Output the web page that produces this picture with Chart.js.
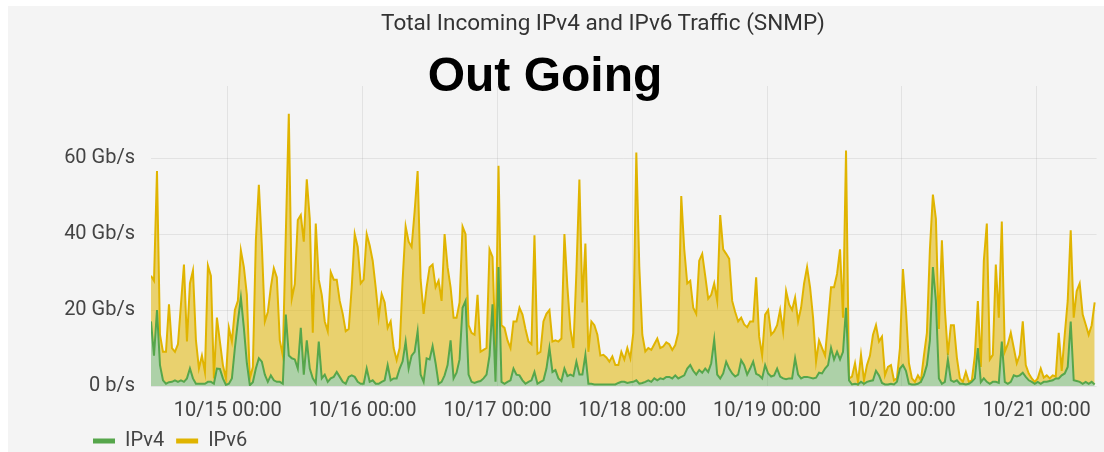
<!DOCTYPE html>
<html>
<head>
<meta charset="utf-8">
<script src="https://cdn.jsdelivr.net/npm/chart.js@4.4.0/dist/chart.umd.min.js"></script>
<style>
  html, body { margin: 0; padding: 0; background: #fff; }
  body { width: 1104px; height: 452px; overflow: hidden; position: relative; }
  #panel { position: absolute; left: 8px; top: 6px; width: 1096px; height: 446px; background: #f4f4f4; }
  #title { position: absolute; left: 595px; top: 5px; transform: translateX(-50%); white-space: nowrap;
           font: 22.5px/1 Roboto, sans-serif; color: #333; }
  #note { position: absolute; left: 537px; top: 45px; transform: translateX(-50%); white-space: nowrap;
          font: bold 48px/1 "Liberation Sans", Arial, sans-serif; color: #000; z-index: 2; }
  canvas { position: absolute; left: 0; top: 0; }
</style>
</head>
<body>
<div id="panel">
  <canvas id="traffic" width="1096" height="446"></canvas>
  <div id="title">Total Incoming IPv4 and IPv6 Traffic (SNMP)</div>
  <div id="note">Out Going</div>
</div>
<script>
// samples every 32 minutes starting 10/14 10:20 (hours counted from 10/14 00:00)
const startHour = 10 + 20 / 60;
const stepHours = 32 / 60;
const endHour = 178.67;

// IPv4 (Gb/s)
const ipv4 = [
  17, 8, 20, 5.5, 1.5, 0.6, 1, 1.1, 1.5, 1.1, 1.5, 1.1, 2, 4.6, 2, 0.6, 0.6, 0.6, 0.6, 1.1,
  1.1, 0.6, 4.6, 4.5, 2, 0.3, 0.6, 2, 10, 17, 23.3, 15.3, 6, 0.2, 1, 4.6, 7.3, 6.4, 3, 1.1,
  2.8, 1.5, 1.1, 1.1, 0.6, 18.8, 8, 7.3, 7, 4.6, 15.3, 3, 12, 4.6,
  2, 0.8, 11.7, 2, 3, 1.1, 2, 2.4, 3.7, 2.4, 1.1, 0.6, 2.4, 2.8, 2.4, 1.1, 0.6, 0.6, 4.6, 1.1,
  1.5, 0.6, 0.6, 1.1, 1.5, 5.5, 1.5, 2, 2, 4.6, 6.5, 11.7, 4.6, 8, 9, 14.4, 3, 1.1, 7.3, 7,
  10.5, 6, 0.6, 1.1, 2.8, 5.5, 12, 2, 3.5, 7, 20.6,
  22.4, 3, 1.1, 0.8, 1.1, 1.3, 2, 3, 8, 21.5, 1.1, 31.3, 1.1, 0.6, 1.1, 1.5, 4.6, 3, 2.8, 1.5,
  0.6, 1.1, 1.5, 3.7, 0.6, 1.1, 1.5, 4.6, 10, 3.7, 4.2, 2, 1.3, 4.6, 2.6, 3, 2.6, 6.4, 3, 3,
  8.2, 0.6, 0.6, 0.4, 0.4, 0.4, 0.4, 0.4, 0.4, 0.4, 0.4, 0.8, 1.1,
  1.1, 0.8, 1, 1.1, 1.5, 0.6, 0.8, 1.1, 1.5, 1.1, 2, 1.5, 2, 1.8, 2.4, 2.4, 2, 2.8, 2, 2.4,
  2.8, 4.6, 5.5, 4, 3, 4.2, 3.5, 4.6, 3.7, 6, 12.2, 3, 2, 3.3, 6.4, 4.6, 3.3, 2.5, 3, 6.8,
  5.5, 3, 4.6, 6.4, 3.2, 2.8, 2, 5.5, 3.3, 2.5, 2.8, 4.6,
  2.5, 2, 1.8, 2, 2, 7.3, 3, 2, 2.4, 2.4, 2.2, 2, 2.2, 3.5, 3.3, 4.6, 5.5, 10, 7, 9,
  7, 9, 20.6, 1.5, 0.4, 0.6, 0.4, 1.1, 0.6, 1.1, 1.3, 1.5, 4, 2.8, 0.8, 0.4, 0.4, 0.6, 0.4, 1.1,
  4.6, 5.5, 4, 0.6, 0.4, 0.4, 0.6, 1.1, 2.8, 5.5, 12, 31.3, 22.4,
  2, 0.6, 1.1, 7, 1.5, 1.1, 1.5, 0.6, 0.6, 0.4, 0.6, 1.1, 2, 10, 1, 2, 1.1, 0.6, 1.1, 1.1,
  0.8, 11.7, 1.1, 0.6, 1.1, 2.8, 2.5, 2.8, 3.5, 2.4, 1.5, 1.1, 0.6, 1.1, 0.6, 1.1, 1.1, 1.3, 1.5, 2,
  2, 2.8, 3.3, 5, 17, 1.5, 1.3, 1.1, 0.6, 1.1, 0.6, 1.1, 0.4
];

// IPv6 stacked on IPv4 (top of the yellow area, Gb/s)
const ipv6Stacked = [
  29, 27.7, 56.6, 13.5, 9, 9, 21.5, 10, 9, 11, 21.5, 32, 11.7, 27, 30.4, 12, 4.6, 8, 3.7, 31.7,
  29, 2, 18, 11.7, 5.5, 2, 15.3, 11.7, 20, 22.4, 35.7, 31.3, 24, 2, 5, 38.4, 53, 37, 17, 19.5,
  26, 31, 28.6, 12, 8, 40, 71.7, 23, 26.8, 43.7, 45, 38, 54.4, 44,
  14, 42.8, 28, 24, 17, 14.4, 30, 28, 28, 22.4, 19, 14.4, 15, 26, 40, 36.6, 27, 28, 40, 37,
  33, 26, 18, 24.2, 22, 15.3, 17, 10, 6.8, 10, 28, 42, 38, 36.6, 46, 56.6, 28, 19, 26, 31.3,
  32, 26, 27.7, 22.4, 40, 31.3, 26, 18, 18, 22, 42,
  40, 16, 14, 13.5, 24, 9, 9.5, 10, 36, 34, 9, 58, 16, 15.3, 12, 10, 17, 17, 20.6, 18.8,
  15, 11.7, 11, 39.7, 8.5, 9, 17, 19, 20, 11.7, 12, 11.7, 12.5, 40, 26, 15, 10, 30, 54.4, 22,
  37.5, 9, 17, 16, 13.5, 8, 8.2, 7.5, 6.4, 7.8, 5.5, 5.5, 9,
  7, 10, 7.3, 14, 61.5, 31.3, 13.5, 9.1, 10, 9.5, 11, 12.5, 10, 10.4, 11.5, 11, 9.5, 10.8, 14, 50,
  36, 27, 27.7, 20.6, 19, 33, 34.8, 29, 23, 24, 27, 22.4, 45, 36, 34.8, 33.5, 22.4, 19.5, 17, 18,
  16.2, 15.5, 17, 17, 28.6, 13, 8, 18.8, 20, 13.5, 14.4, 16,
  20, 14.4, 25, 21.5, 20, 23.3, 17, 20.6, 27, 31.3, 26, 18, 6.4, 12, 10, 8, 17, 26, 26, 29.5,
  36, 18, 62, 2, 2.5, 6, 1, 8.2, 1.5, 5.5, 8, 13.5, 16, 11.7, 13, 2.8, 5, 5.5, 1.5, 2,
  10, 30.8, 20, 6, 2, 1.1, 2.8, 1.5, 8, 14, 36, 50.4, 44,
  15, 38.4, 20, 8.2, 16, 16, 7.5, 2, 1.1, 3.7, 1.1, 1.5, 8, 22.4, 5, 33, 42.8, 7, 8.2, 32,
  18, 43.3, 9, 11, 14, 10, 6, 8.2, 17, 5.5, 3.3, 2, 1.1, 2, 4.6, 2.2, 2.8, 2, 2.8, 2.5,
  14, 4, 13.5, 22.4, 41, 18, 25, 27, 18.8, 16.2, 13.5, 16, 22
];

const dayTicks = [24, 48, 72, 96, 120, 144, 168];
const dayLabels = ['10/15 00:00', '10/16 00:00', '10/17 00:00', '10/18 00:00', '10/19 00:00', '10/20 00:00', '10/21 00:00'];
const yTicks = [0, 20, 40, 60];
const yLabels = ['0 b/s', '20 Gb/s', '40 Gb/s', '60 Gb/s'];

const times = ipv4.map((v, i) => startHour + i * stepHours);

const textColor = '#444';
const gridColor = 'rgba(0, 0, 0, 0.07)';

// legend sits under the y labels, not at the canvas edge
const legendShift = {
  id: 'legendShift',
  afterLayout(chart) {
    chart.legend.left = 73;
    chart.legend.top = 413;
  }
};

const data = {
  labels: times,
  datasets: [{
    label: 'IPv4',
    data: ipv4,
    borderColor: '#56a64b',
    backgroundColor: 'rgba(86, 166, 75, 0.45)',
    borderWidth: 2,
    pointRadius: 0,
    tension: 0,
    fill: 'origin'
  }, {
    label: 'IPv6',
    data: ipv6Stacked,
    borderColor: '#e0b400',
    backgroundColor: 'rgba(224, 180, 0, 0.55)',
    borderWidth: 2,
    pointRadius: 0,
    tension: 0,
    fill: '-1'
  }]
};

const config = {
  type: 'line',
  data: data,
  options: {
    responsive: false,
    animation: false,
    layout: {
      padding: { top: 80, right: 6, left: 0, bottom: -16 }
    },
    plugins: {
      tooltip: { enabled: false },
      legend: {
        position: 'bottom',
        align: 'start',
        labels: {
          font: { family: 'Roboto', size: 20 },
          color: textColor,
          boxWidth: 22,
          boxHeight: 5,
          padding: 12,
          generateLabels(chart) {
            return chart.data.datasets.map((ds, i) => ({
              text: ds.label,
              fillStyle: ds.borderColor,
              strokeStyle: ds.borderColor,
              lineWidth: 0,
              fontColor: textColor,
              datasetIndex: i
            }));
          }
        }
      }
    },
    scales: {
      x: {
        type: 'linear',
        min: startHour,
        max: endHour,
        afterBuildTicks(scale) {
          scale.ticks = dayTicks.map(v => ({ value: v }));
        },
        afterFit(scale) {
          scale.height = 40;
        },
        ticks: {
          autoSkip: false,
          maxRotation: 0,
          padding: 13,
          font: { family: 'Roboto', size: 20 },
          color: textColor,
          callback: (value) => dayLabels[dayTicks.indexOf(value)]
        },
        grid: { color: gridColor, drawTicks: false },
        border: { display: false }
      },
      y: {
        min: 0,
        max: 79,
        afterBuildTicks(scale) {
          scale.ticks = yTicks.map(v => ({ value: v }));
        },
        afterFit(scale) {
          scale.width = 143;
        },
        ticks: {
          padding: 16,
          font: { family: 'Roboto', size: 20 },
          color: textColor,
          callback: (value) => yLabels[yTicks.indexOf(value)]
        },
        grid: { color: gridColor, drawTicks: false },
        border: { display: false }
      }
    }
  },
  plugins: [legendShift]
};

const trafficChart = new Chart(document.getElementById('traffic'), config);
</script>
</body>
</html>
